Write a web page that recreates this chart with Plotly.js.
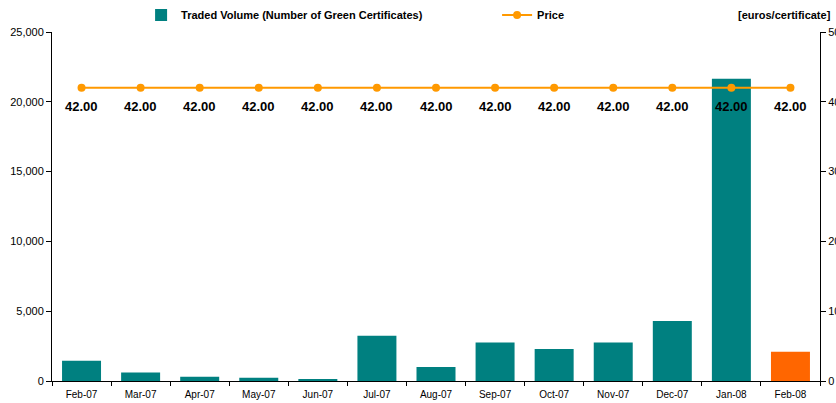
<!DOCTYPE html>
<html><head><meta charset="utf-8">
<script src="https://cdn.plot.ly/plotly-3.0.1.min.js"></script>
<style>body{margin:0;background:#fff}#c{width:836px;height:403px}</style>
</head><body><div id="c"></div>
<script>
var months = ["Feb-07","Mar-07","Apr-07","May-07","Jun-07","Jul-07","Aug-07","Sep-07","Oct-07","Nov-07","Dec-07","Jan-08","Feb-08"];
var volume = [1450, 600, 300, 230, 150, 3250, 1000, 2750, 2300, 2750, 4300, 21650, 2100];
var price = [42, 42, 42, 42, 42, 42, 42, 42, 42, 42, 42, 42, 42];
var barColors = months.map(function(m, i){ return i === months.length - 1 ? "#FF6600" : "#008080"; });

var font = "Liberation Sans, Arial, sans-serif";
var traces = [
  {type:"bar", x:months, y:volume, name:"Traded Volume (Number of Green Certificates)",
   marker:{color:barColors}, yaxis:"y", hoverinfo:"x+y"},
  {type:"scatter", mode:"lines+markers", x:months, y:price, name:"Price", yaxis:"y2",
   line:{color:"#FF9900", width:2}, marker:{color:"#FF9900", size:8}}
];
var priceLabels = months.map(function(m, i){
  return {x:m, y:price[i], xref:"x", yref:"y2", text:price[i].toFixed(2), showarrow:false,
          yshift:-19, font:{family:font, size:13, color:"#000", weight:"bold"}};
});
priceLabels.push({text:"[euros/certificate]", xref:"paper", yref:"paper", x:1.017, y:1.049,
                xanchor:"right", yanchor:"middle", showarrow:false,
                font:{family:font, size:11, weight:"bold", color:"#000"}});
var layout = {
  width:836, height:403,
  margin:{l:52, r:16, t:32, b:22, autoexpand:false},
  paper_bgcolor:"#fff", plot_bgcolor:"#fff",
  font:{family:font, color:"#000"},
  bargap:0.34,
  showlegend:true,
  legend:{orientation:"h", x:0.116, xanchor:"left", y:1.049, yanchor:"middle",
          font:{family:font, size:11, weight:"bold"}, entrywidth:311, entrywidthmode:"pixels",
          bgcolor:"rgba(0,0,0,0)", traceorder:"normal"},
  xaxis:{type:"category", range:[-0.5, months.length - 0.5], showline:true, linecolor:"#000", linewidth:1, ticks:"outside",
         tickson:"boundaries", ticklen:4, tickcolor:"#000", tickfont:{size:10, family:font},
         ticklabelstandoff:4, showgrid:false, zeroline:false, fixedrange:true},
  yaxis:{range:[0,25000], dtick:5000, tickformat:",d", showline:true, linecolor:"#000",
         ticks:"outside", ticklen:5, tickcolor:"#000", tickfont:{size:11, family:font},
         showgrid:false, zeroline:false},
  yaxis2:{range:[0,50], dtick:10, overlaying:"y", side:"right", showline:true, linecolor:"#000",
          ticks:"outside", ticklen:5, tickcolor:"#000", tickfont:{size:11, family:font},
          showgrid:false, zeroline:false},
  annotations:priceLabels
};
Plotly.newPlot("c", traces, layout, {staticPlot:true});
</script></body></html>
